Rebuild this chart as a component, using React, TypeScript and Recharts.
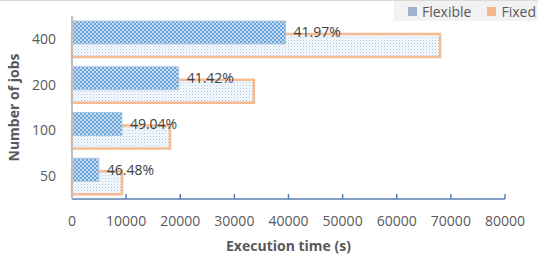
import React from 'react';
import { BarChart, Bar, XAxis, YAxis, LabelList, Label, Legend } from 'recharts';

const jobs = ['400', '200', '100', '50'];
const fixedTimes = [68000, 33600, 18100, 9250];
const flexibleTimes = [39450, 19700, 9220, 4950];
const improvementLabels = ['41.97%', '41.42%', '49.04%', '46.48%'];
const xTicks = [0, 10000, 20000, 30000, 40000, 50000, 60000, 70000, 80000];

const data = jobs.map((j, i) => ({
  jobs: j,
  Fixed: fixedTimes[i],
  Flexible: flexibleTimes[i],
  label: improvementLabels[i],
}));

const FONT = "'Open Sans', 'Liberation Sans', sans-serif";

const LegendContent = () => (
  <div
    style={{
      background: '#f2f2f2',
      height: 20,
      display: 'flex',
      alignItems: 'center',
      fontFamily: FONT,
      fontSize: 14,
      color: '#595959',
      paddingLeft: 14,
      boxSizing: 'border-box',
    }}
  >
    <svg width={9} height={9} style={{ marginRight: 5 }}>
      <rect x={0} y={0} width={9} height={9} fill="url(#legFlex)" />
    </svg>
    <span style={{ marginRight: 16 }}>Flexible</span>
    <svg width={9} height={9} style={{ marginRight: 5 }}>
      <rect x={0} y={0} width={9} height={9} fill="url(#legFixed)" />
    </svg>
    <span>Fixed</span>
  </div>
);

export default function App() {
  return (
    <div
      style={{
        position: 'absolute',
        left: 0,
        top: 0,
        width: 538,
        height: 267,
        background: '#fff',
        borderTop: '1px solid #d9d9d9',
        boxSizing: 'border-box',
      }}
    >
      <svg width={0} height={0} style={{ position: 'absolute' }}>
        <defs>
          <pattern id="checkBlue" width={4} height={4} patternUnits="userSpaceOnUse">
            <rect x={0} y={0} width={4} height={4} fill="#c5dbf1" />
            <rect x={0} y={0} width={2} height={2} fill="#6aa5da" />
            <rect x={2} y={2} width={2} height={2} fill="#6aa5da" />
          </pattern>
          <pattern id="dotsFixed" width={3} height={3} patternUnits="userSpaceOnUse">
            <rect x={0} y={0} width={3} height={3} fill="#f7fafd" />
            <rect x={0} y={0} width={1} height={1} fill="#a9c8e8" />
            <rect x={1.5} y={1.5} width={1} height={1} fill="#d0e1f2" />
          </pattern>
          <pattern id="legFlex" width={3} height={3} patternUnits="userSpaceOnUse">
            <rect x={0} y={0} width={3} height={3} fill="#b4c4d8" />
            <rect x={0} y={0} width={1.5} height={1.5} fill="#8aa3c2" />
            <rect x={1.5} y={1.5} width={1.5} height={1.5} fill="#8aa3c2" />
          </pattern>
          <pattern id="legFixed" width={3} height={3} patternUnits="userSpaceOnUse">
            <rect x={0} y={0} width={3} height={3} fill="#f8cbad" />
            <rect x={0} y={0} width={1.5} height={1.5} fill="#f0a070" />
            <rect x={1.5} y={1.5} width={1.5} height={1.5} fill="#f0a070" />
          </pattern>
        </defs>
      </svg>
      <BarChart
        width={538}
        height={266}
        data={data}
        layout="vertical"
        margin={{ top: 15, right: 33, bottom: 0, left: 0 }}
        barGap={-36}
      >
        <XAxis
          type="number"
          domain={[0, 80000]}
          ticks={xTicks}
          interval={0}
          height={68}
          axisLine={{ stroke: '#5b7fb0', strokeWidth: 1.5 }}
          tickLine={{ stroke: '#5b7fb0', strokeWidth: 1.5 }}
          tickSize={-5}
          tickMargin={22}
          tick={{ fill: '#595959', fontSize: 14, fontFamily: FONT }}
        >
          <Label
            value="Execution time (s)"
            position="insideBottom"
            offset={16}
            style={{ fill: '#595959', fontSize: 14, fontWeight: 'bold', fontFamily: FONT }}
          />
        </XAxis>
        <YAxis
          type="category"
          dataKey="jobs"
          width={72}
          axisLine={{ stroke: '#bfbfbf', strokeWidth: 2 }}
          tickLine={false}
          tickSize={0}
          tickMargin={16}
          tick={{ fill: '#595959', fontSize: 14, fontFamily: FONT }}
        >
          <Label
            value="Number of jobs"
            angle={-90}
            position="insideLeft"
            offset={14}
            style={{ fill: '#595959', fontSize: 14, fontWeight: 'bold', fontFamily: FONT, textAnchor: 'middle' }}
          />
        </YAxis>
        <Legend
          layout="vertical"
          align="center"
          verticalAlign="middle"
          content={<LegendContent />}
          wrapperStyle={{ position: 'absolute', left: 394, top: 0, width: 144, height: 20 }}
        />
        <Bar
          dataKey="Fixed"
          barSize={23}
          fill="url(#dotsFixed)"
          stroke="#f5bb93"
          strokeWidth={2.5}
          isAnimationActive={false}
        />
        <Bar
          dataKey="Flexible"
          barSize={23}
          fill="url(#checkBlue)"
          stroke="#a9c4e0"
          strokeWidth={1}
          isAnimationActive={false}
        >
          <LabelList
            dataKey="label"
            position="right"
            offset={8}
            style={{ fill: '#404040', fontSize: 14, fontFamily: FONT }}
          />
        </Bar>
      </BarChart>
    </div>
  );
}
